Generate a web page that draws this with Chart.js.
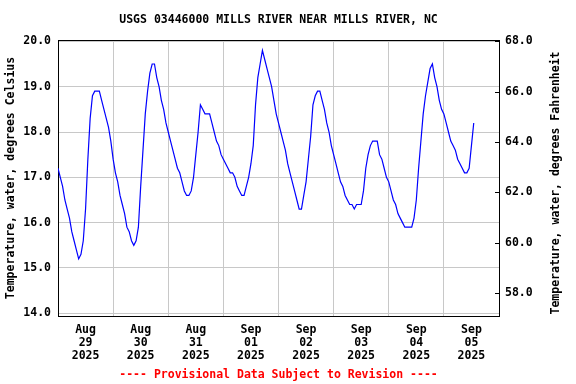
<!DOCTYPE html>
<html>
<head>
<meta charset="utf-8">
<script src="https://cdn.jsdelivr.net/npm/chart.js@4.4.0/dist/chart.umd.min.js"></script>
<style>
  body { margin: 0; background: #fff; }
  canvas { display: block; }
</style>
</head>
<body>
<canvas id="myChart" width="576" height="384"></canvas>
<script>
// hourly water temperature (deg C), starting Aug 29 2025 00:00
const tempC = [
  17.2, 17.0, 16.8, 16.5, 16.3, 16.1, 15.8, 15.6, 15.4, 15.2, 15.3, 15.6, 16.3, 17.4, 18.3, 18.8, 18.9, 18.9, 18.9, 18.7, 18.5, 18.3, 18.1, 17.8,
  17.4, 17.1, 16.9, 16.6, 16.4, 16.2, 15.9, 15.8, 15.6, 15.5, 15.6, 15.9, 16.8, 17.6, 18.4, 18.9, 19.3, 19.5, 19.5, 19.2, 19.0, 18.7, 18.5, 18.2,
  18.0, 17.8, 17.6, 17.4, 17.2, 17.1, 16.9, 16.7, 16.6, 16.6, 16.7, 17.0, 17.5, 18.0, 18.6, 18.5, 18.4, 18.4, 18.4, 18.2, 18.0, 17.8, 17.7, 17.5,
  17.4, 17.3, 17.2, 17.1, 17.1, 17.0, 16.8, 16.7, 16.6, 16.6, 16.8, 17.0, 17.3, 17.7, 18.6, 19.2, 19.5, 19.8, 19.6, 19.4, 19.2, 19.0, 18.7, 18.4,
  18.2, 18.0, 17.8, 17.6, 17.3, 17.1, 16.9, 16.7, 16.5, 16.3, 16.3, 16.6, 16.9, 17.4, 17.9, 18.6, 18.8, 18.9, 18.9, 18.7, 18.5, 18.2, 18.0, 17.7,
  17.5, 17.3, 17.1, 16.9, 16.8, 16.6, 16.5, 16.4, 16.4, 16.3, 16.4, 16.4, 16.4, 16.7, 17.2, 17.5, 17.7, 17.8, 17.8, 17.8, 17.5, 17.4, 17.2, 17.0,
  16.9, 16.7, 16.5, 16.4, 16.2, 16.1, 16.0, 15.9, 15.9, 15.9, 15.9, 16.1, 16.5, 17.2, 17.8, 18.4, 18.8, 19.1, 19.4, 19.5, 19.2, 19.0, 18.7, 18.5,
  18.4, 18.2, 18.0, 17.8, 17.7, 17.6, 17.4, 17.3, 17.2, 17.1, 17.1, 17.2, 17.7, 18.2
];
const dayLabels = [
  ['Aug', '29', '2025'], ['Aug', '30', '2025'], ['Aug', '31', '2025'], ['Sep', '01', '2025'],
  ['Sep', '02', '2025'], ['Sep', '03', '2025'], ['Sep', '04', '2025'], ['Sep', '05', '2025']
];
const celsiusTicks = [14, 15, 16, 17, 18, 19, 20];
const fahrenheitTicks = [58, 60, 62, 64, 66, 68];

const FONT = { family: 'DejaVu Sans Mono', size: 11.5, weight: 'bold' };
const GRID = '#c8c8c8';

// top frame line, inward ticks on the right axis, right axis title
const framePlugin = {
  id: 'frame',
  afterDraw(chart) {
    const c = chart.ctx;
    const a = chart.chartArea;
    const yF = chart.scales.yF;
    c.save();
    c.strokeStyle = '#000';
    c.lineWidth = 1;
    c.beginPath();
    c.moveTo(a.left, a.top + 0.5);
    c.lineTo(a.right, a.top + 0.5);
    fahrenheitTicks.forEach(function(t) {
      const py = Math.round(yF.getPixelForValue(t)) + 0.5;
      c.moveTo(a.right - 4, py);
      c.lineTo(a.right, py);
    });
    c.stroke();
    c.translate(556, 183);
    c.rotate(-Math.PI / 2);
    c.fillStyle = '#000';
    c.font = 'bold 11.5px "DejaVu Sans Mono"';
    c.textAlign = 'center';
    c.textBaseline = 'middle';
    c.fillText('Temperature, water, degrees Fahrenheit', 0, 0);
    c.restore();
  }
};

var ctx = document.getElementById('myChart').getContext('2d');
var myChart = new Chart(ctx, {
  type: 'line',
  data: {
    datasets: [{
      data: tempC.map(function(v, i) { return { x: i, y: v }; }),
      borderColor: '#0000ff',
      borderWidth: 1.2,
      pointRadius: 0,
      tension: 0,
      fill: false
    }]
  },
  options: {
    responsive: false,
    animation: false,
    layout: { padding: 0 },
    plugins: {
      legend: { display: false },
      tooltip: { enabled: false },
      title: {
        display: true,
        fullSize: false,
        text: 'USGS 03446000 MILLS RIVER NEAR MILLS RIVER, NC',
        color: '#000',
        font: FONT,
        padding: { top: 13, bottom: 13.2 }
      },
      subtitle: {
        display: true,
        fullSize: false,
        position: 'bottom',
        text: '---- Provisional Data Subject to Revision ----',
        color: '#ff0000',
        font: FONT,
        padding: { top: 0, bottom: 2 }
      }
    },
    scales: {
      x: {
        type: 'linear',
        min: 0,
        max: 192,
        afterBuildTicks: function(axis) {
          const t = [];
          for (let d = 0; d <= dayLabels.length; d++) {
            t.push({ value: d * 24 });
            if (d < dayLabels.length) t.push({ value: d * 24 + 12 });
          }
          axis.ticks = t;
        },
        afterFit: function(axis) { axis.height = 52.2; },
        ticks: {
          autoSkip: false,
          maxRotation: 0,
          padding: 8,
          color: '#000',
          font: Object.assign({ lineHeight: 1.1 }, FONT),
          callback: function(v) {
            return v % 24 === 12 ? dayLabels[(v - 12) / 24] : '';
          }
        },
        grid: {
          drawTicks: false,
          color: function(c) {
            return c.tick && c.tick.value % 24 === 0 ? GRID : 'rgba(0,0,0,0)';
          }
        },
        border: { color: '#000', width: 1 }
      },
      y: {
        position: 'left',
        min: 13.94,
        max: 20.03,
        afterBuildTicks: function(axis) {
          axis.ticks = celsiusTicks.map(function(v) { return { value: v }; });
        },
        afterFit: function(axis) { axis.width = 58; },
        ticks: {
          padding: 7,
          color: '#000',
          font: FONT,
          callback: function(v) { return v.toFixed(1); }
        },
        grid: { color: GRID, drawTicks: false },
        border: { color: '#000', width: 1 },
        title: {
          display: true,
          text: 'Temperature, water, degrees Celsius',
          color: '#000',
          font: FONT,
          padding: { top: 4, bottom: 0 }
        }
      },
      yF: {
        position: 'right',
        min: 57.092,
        max: 68.054,
        afterBuildTicks: function(axis) {
          axis.ticks = fahrenheitTicks.map(function(v) { return { value: v }; });
        },
        afterFit: function(axis) { axis.width = 77; },
        ticks: {
          padding: 6,
          color: '#000',
          font: FONT,
          callback: function(v) { return v.toFixed(1); }
        },
        grid: { drawOnChartArea: false, drawTicks: false },
        border: { color: '#000', width: 1 }
      }
    }
  },
  plugins: [framePlugin]
});
</script>
</body>
</html>
